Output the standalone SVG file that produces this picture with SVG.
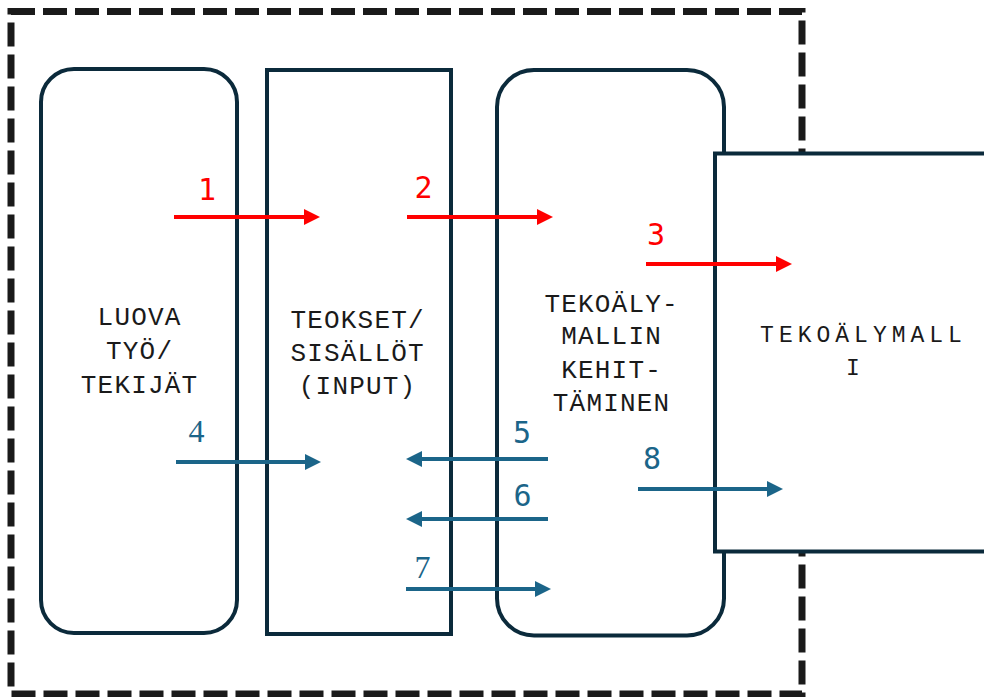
<svg xmlns="http://www.w3.org/2000/svg" width="984" height="697" viewBox="0 0 984 697">
<style>
.box{fill:none;stroke:#0b2a3b;stroke-width:4}
.boxw{fill:#fff;stroke:#0b2a3b;stroke-width:4}
.lbl{font-family:"Liberation Mono",monospace;font-size:26px;letter-spacing:1.2px;fill:#1a1a1a;text-anchor:middle}
.lbl4{font-family:"Liberation Mono",monospace;font-size:23px;letter-spacing:5px;fill:#1a1a1a;text-anchor:middle}
.red{fill:none;stroke:#ff0000;stroke-width:4}
.blue{fill:none;stroke:#1b6589;stroke-width:4}
.nr{font-family:"DejaVu Sans Mono",monospace;font-size:30px;fill:#ff0000;text-anchor:middle}
.nb{font-family:"DejaVu Sans Mono",monospace;font-size:30px;fill:#1b6589;text-anchor:middle}
.ns{font-family:"Liberation Serif",serif;font-size:32px;fill:#1b6589;text-anchor:middle}
</style>
<defs>
<marker id="hr" markerUnits="userSpaceOnUse" markerWidth="16" markerHeight="16" refX="4" refY="8" orient="auto"><path d="M0,0 L16,8 L0,16 Z" fill="#ff0000"/></marker>
<marker id="hb" markerUnits="userSpaceOnUse" markerWidth="16" markerHeight="16" refX="4" refY="8" orient="auto"><path d="M0,0 L16,8 L0,16 Z" fill="#1b6589"/></marker>
</defs>
<rect width="984" height="697" fill="#fff"/>
<g id="boundary">
<path d="M11,11.5 H802 V694 H11 Z" fill="none" stroke="#1a1a1a" stroke-width="7" stroke-dasharray="24 8"/>
</g>
<g id="node-luova">
<rect class="box" x="41" y="69" width="196" height="564" rx="33" ry="33"/>
<text class="lbl" x="139.6" y="325">LUOVA</text>
<text class="lbl" x="139.6" y="359">TYÖ/</text>
<text class="lbl" x="139.6" y="393">TEKIJÄT</text>
</g>
<g id="node-teokset">
<rect class="box" x="267" y="70" width="184" height="564"/>
<text class="lbl" x="357.6" y="328">TEOKSET/</text>
<text class="lbl" x="357.6" y="361">SISÄLLÖT</text>
<text class="lbl" x="357.6" y="394">(INPUT)</text>
</g>
<g id="node-kehittaminen">
<rect class="box" x="497" y="70" width="227" height="565.5" rx="37" ry="37"/>
<text class="lbl" x="611.6" y="312">TEKOÄLY-</text>
<text class="lbl" x="611.6" y="344">MALLIN</text>
<text class="lbl" x="611.6" y="378">KEHIT-</text>
<text class="lbl" x="611.6" y="411">TÄMINEN</text>
</g>
<g id="node-tekoalymalli">
<rect class="boxw" x="715" y="153.5" width="290" height="398"/>
<text class="lbl4" x="863.5" y="342">TEKOÄLYMALL</text>
<text class="lbl4" x="855.5" y="375">I</text>
</g>
<g id="connectors">
<path class="red" d="M174,217 H308" marker-end="url(#hr)"/>
<path class="red" d="M407,217 H541" marker-end="url(#hr)"/>
<path class="red" d="M646,264 H780" marker-end="url(#hr)"/>
<path class="blue" d="M176,462 H309" marker-end="url(#hb)"/>
<path class="blue" d="M548,459 H418" marker-end="url(#hb)"/>
<path class="blue" d="M548,519 H418" marker-end="url(#hb)"/>
<path class="blue" d="M406,589 H539" marker-end="url(#hb)"/>
<path class="blue" d="M638,489 H771" marker-end="url(#hb)"/>
<text class="nr" x="207" y="200">1</text>
<text class="nr" x="423.5" y="198">2</text>
<text class="nr" x="656" y="245">3</text>
<text class="ns" x="196.5" y="442">4</text>
<text class="nb" x="522" y="443">5</text>
<text class="nb" x="522.5" y="506">6</text>
<text class="ns" x="422.5" y="578">7</text>
<text class="nb" x="652" y="469">8</text>
</g>
</svg>
